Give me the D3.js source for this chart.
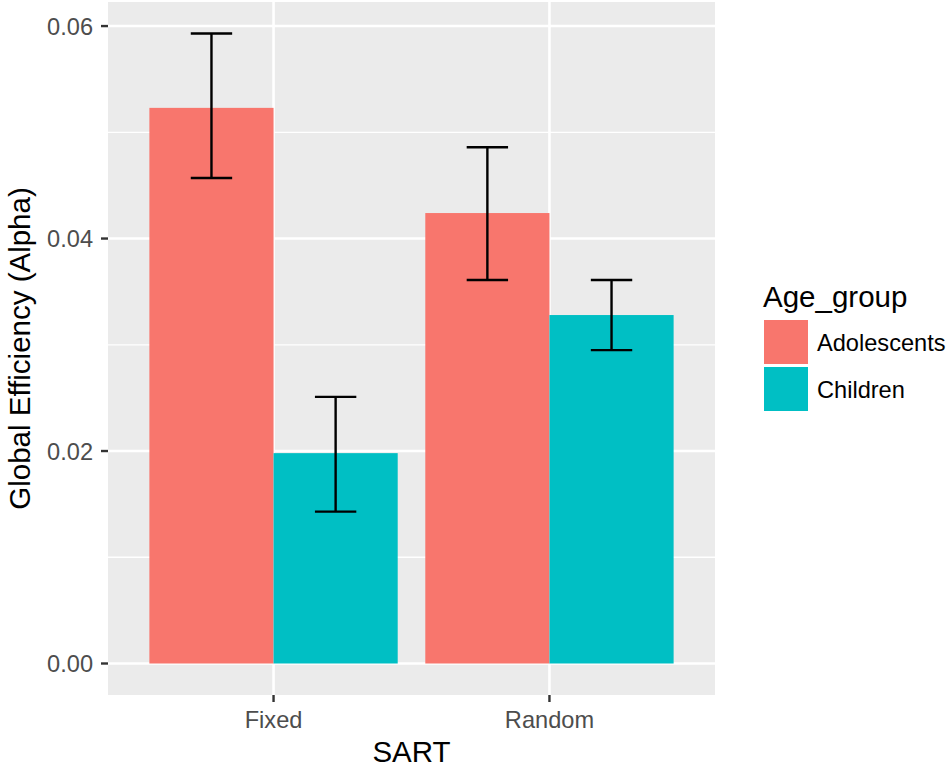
<!DOCTYPE html>
<html>
<head>
<meta charset="utf-8">
<script src="https://cdn.jsdelivr.net/npm/d3@7"></script>
<style>
  body { margin: 0; background: #fff; }
  text { font-family: "Liberation Sans", Arial, sans-serif; }
</style>
</head>
<body>
<div id="chart"></div>
<script>
// data
const sart = ["Fixed", "Random"];
const groups = ["Adolescents", "Children"];
const groupColors = ["#F8766D", "#00BFC4"];
const meanAdolescents = [0.0523, 0.0424];
const lowerAdolescents = [0.0457, 0.0361];
const upperAdolescents = [0.0593, 0.0486];
const meanChildren = [0.0198, 0.0328];
const lowerChildren = [0.0143, 0.0295];
const upperChildren = [0.0251, 0.0361];
const yTicks = [0, 0.02, 0.04, 0.06];
const yMinorTicks = [0.01, 0.03, 0.05];

const width = 950, height = 769;
const panel = {left: 108, right: 715, top: 2, bottom: 695};

const rows = [];
sart.forEach((s, i) => {
  rows.push({sart: s, group: groups[0], mean: meanAdolescents[i], lo: lowerAdolescents[i], hi: upperAdolescents[i]});
  rows.push({sart: s, group: groups[1], mean: meanChildren[i], lo: lowerChildren[i], hi: upperChildren[i]});
});

// ggplot style expansion: 5% continuous, 0.6 units discrete
const yMax = d3.max(rows, d => d.hi);
const yscale = d3.scaleLinear()
  .domain([-0.05 * yMax, 1.05 * yMax])
  .range([panel.bottom, panel.top]);

// discrete x: unit = width / 2.2, centres at 0.6 and 1.6 units
const unit = (panel.right - panel.left) / 2.2;
const xscale = d3.scalePoint()
  .domain(sart)
  .range([panel.left + 0.6 * unit, panel.right - 0.6 * unit]);
const xsub = d3.scaleBand().domain(groups).range([-0.45 * unit, 0.45 * unit]);
const color = d3.scaleOrdinal().domain(groups).range(groupColors);

const svg = d3.select("#chart").append("svg")
  .attr("width", width)
  .attr("height", height);

// panel background
svg.append("rect")
  .attr("x", panel.left)
  .attr("y", panel.top)
  .attr("width", panel.right - panel.left)
  .attr("height", panel.bottom - panel.top)
  .attr("fill", "#EBEBEB");

// grid lines
svg.append("g")
  .selectAll("line")
  .data(yMinorTicks)
  .join("line")
  .attr("x1", panel.left).attr("x2", panel.right)
  .attr("y1", d => yscale(d)).attr("y2", d => yscale(d))
  .attr("stroke", "#fff").attr("stroke-width", 1.3);

svg.append("g")
  .selectAll("line")
  .data(yTicks)
  .join("line")
  .attr("x1", panel.left).attr("x2", panel.right)
  .attr("y1", d => yscale(d)).attr("y2", d => yscale(d))
  .attr("stroke", "#fff").attr("stroke-width", 2.6);

svg.append("g")
  .selectAll("line")
  .data(sart)
  .join("line")
  .attr("x1", d => xscale(d)).attr("x2", d => xscale(d))
  .attr("y1", panel.top).attr("y2", panel.bottom)
  .attr("stroke", "#fff").attr("stroke-width", 2.6);

// bars
svg.append("g")
  .selectAll("rect")
  .data(rows)
  .join("rect")
  .attr("x", d => xscale(d.sart) + xsub(d.group))
  .attr("width", xsub.bandwidth())
  .attr("y", d => yscale(d.mean))
  .attr("height", d => yscale(0) - yscale(d.mean))
  .attr("fill", d => color(d.group));

// error bars
const errW = 0.15 * unit;
const err = svg.append("g")
  .attr("stroke", "#000")
  .attr("stroke-width", 2.4)
  .attr("fill", "none");

err.selectAll("path")
  .data(rows)
  .join("path")
  .attr("d", d => {
    const cx = xscale(d.sart) + xsub(d.group) + xsub.bandwidth() / 2;
    const y1 = yscale(d.hi), y2 = yscale(d.lo);
    return `M${cx - errW / 2},${y1}H${cx + errW / 2}M${cx},${y1}V${y2}M${cx - errW / 2},${y2}H${cx + errW / 2}`;
  });

// y axis ticks and labels
const yAxis = svg.append("g");
yAxis.selectAll("line")
  .data(yTicks)
  .join("line")
  .attr("x1", panel.left - 7).attr("x2", panel.left)
  .attr("y1", d => yscale(d)).attr("y2", d => yscale(d))
  .attr("stroke", "#333").attr("stroke-width", 2.4);
yAxis.selectAll("text")
  .data(yTicks)
  .join("text")
  .attr("x", panel.left - 15)
  .attr("y", d => yscale(d) + 8.6)
  .attr("text-anchor", "end")
  .attr("font-size", 23.6)
  .attr("fill", "#4D4D4D")
  .text(d3.format(".2f"));

// x axis ticks and labels
const xAxis = svg.append("g");
xAxis.selectAll("line")
  .data(sart)
  .join("line")
  .attr("x1", d => xscale(d)).attr("x2", d => xscale(d))
  .attr("y1", panel.bottom).attr("y2", panel.bottom + 7)
  .attr("stroke", "#333").attr("stroke-width", 2.4);
xAxis.selectAll("text")
  .data(sart)
  .join("text")
  .attr("x", d => xscale(d))
  .attr("y", 728)
  .attr("text-anchor", "middle")
  .attr("font-size", 23.6)
  .attr("fill", "#4D4D4D")
  .text(d => d);

// axis titles
svg.append("text")
  .attr("x", (panel.left + panel.right) / 2)
  .attr("y", 762)
  .attr("text-anchor", "middle")
  .attr("font-size", 29.5)
  .attr("fill", "#000")
  .text("SART");

svg.append("text")
  .attr("transform", `translate(30,${(panel.top + panel.bottom) / 2}) rotate(-90)`)
  .attr("text-anchor", "middle")
  .attr("font-size", 29.5)
  .attr("fill", "#000")
  .text("Global Efficiency (Alpha)");

// legend
const legend = svg.append("g").attr("transform", "translate(764,0)");
legend.append("text")
  .attr("x", -1)
  .attr("y", 307)
  .attr("font-size", 29.5)
  .attr("fill", "#000")
  .text("Age_group");

const keys = legend.selectAll("g")
  .data(groups)
  .join("g")
  .attr("transform", (d, i) => `translate(0,${320 + i * 47})`);
keys.append("rect")
  .attr("width", 44)
  .attr("height", 44)
  .attr("fill", d => color(d));
keys.append("text")
  .attr("x", 53)
  .attr("y", 22 + 8.6)
  .attr("font-size", 23.6)
  .attr("fill", "#000")
  .text(d => d);
</script>
</body>
</html>
